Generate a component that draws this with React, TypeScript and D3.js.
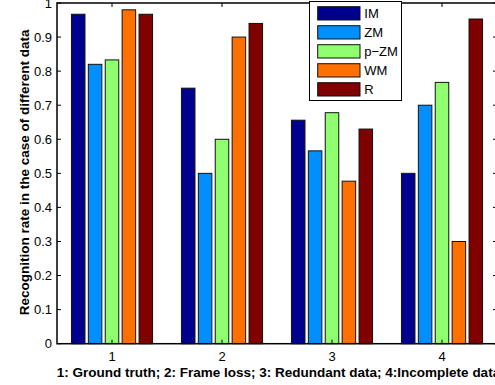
import React from "react";
import * as d3 from "d3";

const groups = ["1", "2", "3", "4"];
const series = ["IM", "ZM", "p\u2212ZM", "WM", "R"];
const colors = ["#00008F", "#008FFF", "#8FFF70", "#FF7000", "#800000"];
const values: number[][] = [
  [0.967, 0.75, 0.656, 0.5],   // IM
  [0.82, 0.5, 0.566, 0.7],     // ZM
  [0.833, 0.6, 0.678, 0.767],  // p-ZM
  [0.98, 0.9, 0.477, 0.3],     // WM
  [0.967, 0.94, 0.63, 0.953],  // R
];
const yTicks = [0, 0.1, 0.2, 0.3, 0.4, 0.5, 0.6, 0.7, 0.8, 0.9, 1];
const xLabel = "1: Ground truth; 2: Frame loss; 3: Redundant data; 4:Incomplete data";
const yLabel = "Recognition rate in the case of different data";

const W = 495, H = 385;
const L = 57, R = 497, T = 3, B = 343.7;
const font = "'Liberation Sans', Arial, Helvetica, sans-serif";

export default function App() {
  const x = d3.scaleLinear().domain([0.5, 4.5]).range([L, R]);
  const y = d3.scaleLinear().domain([0, 1]).range([B, T]);
  const tickLen = 4;
  return (
    <svg width={W} height={H} style={{ position: "absolute", left: 0, top: 0, background: "#fff" }}
      fontFamily={font}>
      <rect x={0} y={0} width={W} height={H} fill="#fff" />
      {groups.map((g, gi) => {
        const c = gi + 1;
        const inner = d3.scaleBand<string>().domain(series)
          .range([x(c - 0.384), x(c + 0.384)]).paddingInner(0.2).paddingOuter(0.1);
        return (
          <g key={g}>
            {series.map((s, si) => (
              <rect key={s} x={inner(s)} y={y(values[si][gi])} width={inner.bandwidth()}
                height={y(0) - y(values[si][gi])} fill={colors[si]} stroke="#111" strokeWidth={1} />
            ))}
          </g>
        );
      })}
      {/* axes box */}
      <rect x={L} y={T} width={R - L} height={B - T} fill="none" stroke="#000" strokeWidth={1.5} />
      {yTicks.map((t) => (
        <g key={t}>
          <line x1={L} x2={L + tickLen} y1={y(t)} y2={y(t)} stroke="#000" />
          <line x1={R} x2={R - tickLen} y1={y(t)} y2={y(t)} stroke="#000" />
          <text x={L - 5} y={y(t)} dy="0.35em" textAnchor="end" fontSize={13}>{t}</text>
        </g>
      ))}
      {groups.map((g, gi) => (
        <g key={g}>
          <line x1={x(gi + 1)} x2={x(gi + 1)} y1={T} y2={T + tickLen} stroke="#000" />
          <line x1={x(gi + 1)} x2={x(gi + 1)} y1={B} y2={B - tickLen} stroke="#000" />
          <text x={x(gi + 1)} y={B + 12.5} dy="0.35em" textAnchor="middle" fontSize={13}>{g}</text>
        </g>
      ))}
      <text x={(L + R) / 2 + 1.5} y={B + 29} dy="0.35em" textAnchor="middle" fontSize={13.5} fontWeight="bold">{xLabel}</text>
      <text transform={`translate(24.5,${(T + B) / 2 - 1}) rotate(-90)`} textAnchor="middle" dy="0.35em"
        fontSize={13.5} fontWeight="bold">{yLabel}</text>
      {/* legend */}
      <g>
        <rect x={309.5} y={1.5} width={92} height={99} fill="#fff" stroke="#000" strokeWidth={1} />
        {series.map((s, si) => (
          <g key={s}>
            <rect x={317.7} y={6.7 + si * 19} width={42.3} height={13.3} fill={colors[si]} stroke="#111" strokeWidth={1} />
            <text x={364.3} y={6.7 + si * 19 + 6.65} dy="0.35em" fontSize={13}>{s}</text>
          </g>
        ))}
      </g>
    </svg>
  );
}
